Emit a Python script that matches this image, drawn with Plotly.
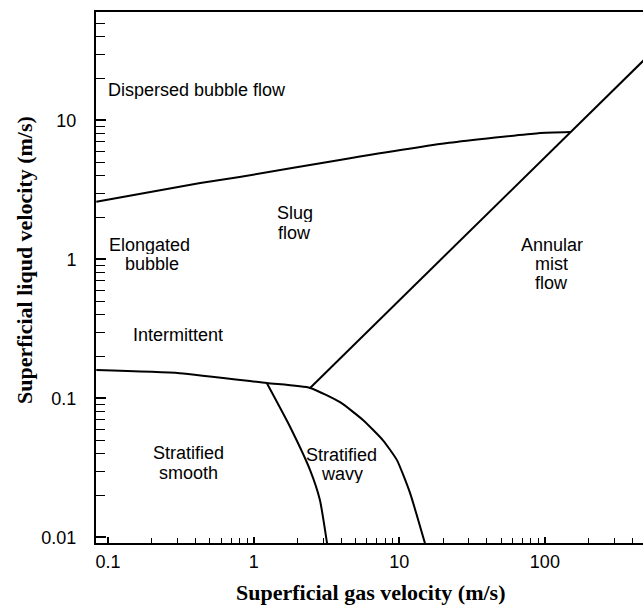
import plotly.graph_objects as go

# Boundary curves (superficial gas velocity, superficial liquid velocity), m/s
dispersed_x = [0.083, 0.43, 0.8, 3.9, 22, 90, 150]
dispersed_y = [2.6, 3.55, 3.92, 5.2, 6.9, 8.1, 8.25]

annular_x = [2.44, 500]
annular_y = [0.119, 28.4]

strat_top_x = [0.083, 0.31, 1.23, 2.44, 3.92, 5.63, 7.73, 9.64, 11.85, 15.0]
strat_top_y = [0.160, 0.152, 0.129, 0.119, 0.094, 0.070, 0.050, 0.036, 0.0209, 0.0091]

smooth_wavy_x = [1.23, 1.78, 2.44, 2.85, 3.19]
smooth_wavy_y = [0.129, 0.0623, 0.0305, 0.0186, 0.0091]

x_ticks = [0.1, 1, 10, 100]
x_tick_text = ["0.1", "1", "10", "100"]
y_ticks = [0.01, 0.1, 1, 10]
y_tick_text = ["0.01", "0.1", "1", "10"]
minor_mult = [2, 3, 4, 5, 6, 7, 8, 9]
x_minor = [m * d for d in [0.1, 1, 10, 100] for m in minor_mult]
y_minor = [m * d for d in [0.01, 0.1, 1, 10] for m in minor_mult]

# Region labels: (text, x paper, y paper)
region_labels = [
    ("Dispersed bubble flow", 0.1846, 0.853),
    ("Slug", 0.3638, 0.6215),
    ("flow", 0.3638, 0.5838),
    ("Elongated", 0.0987, 0.5612),
    ("bubble", 0.1024, 0.5254),
    ("Intermittent", 0.1499, 0.3917),
    ("Annular", 0.8336, 0.5612),
    ("mist", 0.8336, 0.5254),
    ("flow", 0.8336, 0.4896),
    ("Stratified", 0.1682, 0.1695),
    ("smooth", 0.1682, 0.1318),
    ("Stratified", 0.4497, 0.1657),
    ("wavy", 0.4497, 0.1299),
]

fig = go.Figure()
curve = dict(color="black", width=2, shape="spline", smoothing=0.5)
fig.add_trace(go.Scatter(x=dispersed_x, y=dispersed_y, mode="lines", line=curve))
fig.add_trace(go.Scatter(x=annular_x, y=annular_y, mode="lines", line=dict(color="black", width=2)))
fig.add_trace(go.Scatter(x=strat_top_x, y=strat_top_y, mode="lines", line=curve))
fig.add_trace(go.Scatter(x=smooth_wavy_x, y=smooth_wavy_y, mode="lines", line=curve))

tick_font = dict(family="Liberation Sans, Arial, sans-serif", size=18, color="black")
fig.update_xaxes(
    type="log", range=[-1.083, 2.674], showgrid=False, zeroline=False,
    showline=True, linecolor="black", linewidth=2, mirror=True,
    ticks="inside", ticklen=6, tickwidth=1.5, tickcolor="black",
    tickvals=x_ticks, ticktext=x_tick_text, tickfont=tick_font,
    ticklabelstandoff=1,
    minor=dict(tickmode="array", tickvals=x_minor, ticks="inside", ticklen=5,
               tickwidth=1.2, tickcolor="black", showgrid=False),
)
fig.update_yaxes(
    type="log", range=[-2.04, 1.78], showgrid=False, zeroline=False,
    showline=True, linecolor="black", linewidth=2, mirror=False,
    ticks="inside", ticklen=10, tickwidth=1.5, tickcolor="black",
    tickvals=y_ticks, ticktext=y_tick_text, tickfont=tick_font,
    ticklabelstandoff=14,
    minor=dict(tickmode="array", tickvals=y_minor, ticks="inside", ticklen=9,
               tickwidth=1.2, tickcolor="black", showgrid=False),
)

annotations = []
for text, xp, yp in region_labels:
    annotations.append(dict(text=text, x=xp, y=yp, xref="paper", yref="paper",
                            xanchor="center", yanchor="middle", showarrow=False,
                            height=18, valign="middle",
                            font=dict(family="Liberation Sans, Arial, sans-serif", size=18, color="black")))
title_font = dict(family="Liberation Serif, Times New Roman, serif", size=22, color="black")
annotations.append(dict(text="<b>Superficial gas velocity (m/s)</b>", x=0.501, y=-0.094,
                        xref="paper", yref="paper", xanchor="center", yanchor="middle",
                        showarrow=False, font=title_font))
annotations.append(dict(text="<b>Superficial liqud velocity (m/s)</b>", x=-0.1298, y=0.533,
                        xref="paper", yref="paper", xanchor="center", yanchor="middle",
                        showarrow=False, textangle=-90, font=title_font))

fig.update_layout(
    width=643, height=607,
    margin=dict(l=96, r=0, t=12, b=64),
    paper_bgcolor="white", plot_bgcolor="white",
    showlegend=False,
    annotations=annotations,
)
fig.write_html("out.html", config={"displayModeBar": False},
               post_script="document.body.style.margin='0';document.body.style.overflow='hidden';")
